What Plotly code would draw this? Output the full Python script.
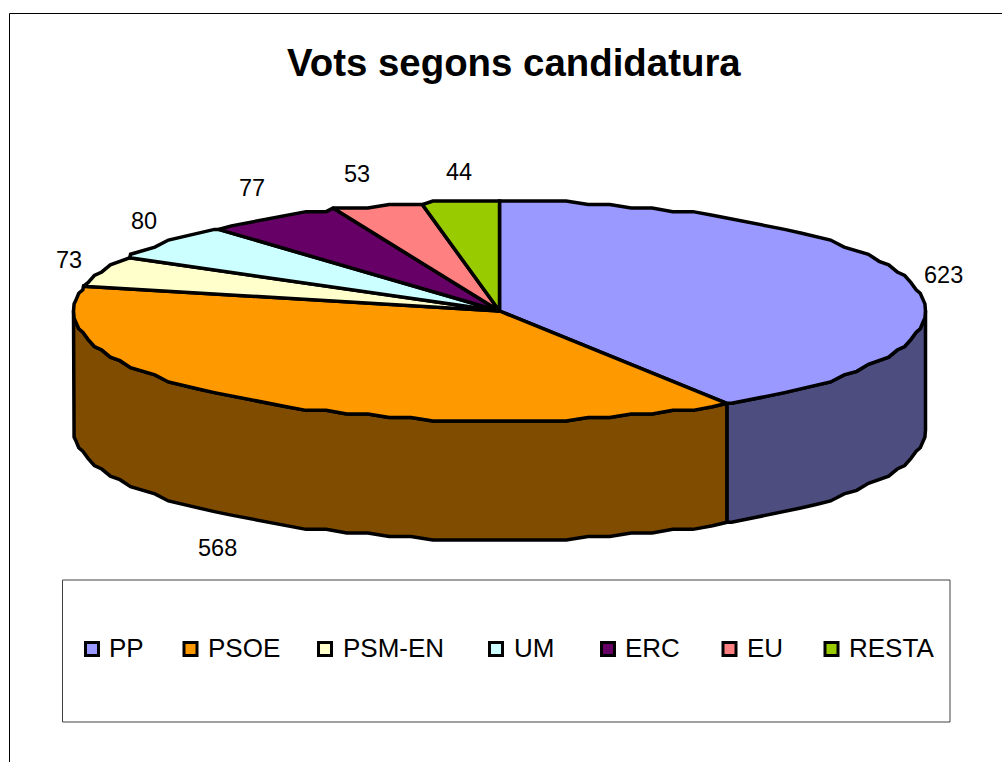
import numpy as np
import plotly.graph_objects as go

categories = ["PP", "PSOE", "PSM-EN", "UM", "ERC", "EU", "RESTA"]
votes = [623, 568, 73, 80, 77, 53, 44]
top_colors = ["#9999FF", "#FF9900", "#FFFFCC", "#CCFFFF", "#660066", "#FF8080", "#99CC00"]
side_colors = {"PP": "#4D4D80", "PSOE": "#804D00"}
title_text = "Vots segons candidatura"

# layout of the drawing, in page pixels
CX, CY, RX, RY, DEPTH = 499.5, 311, 426, 110, 119
GRID = 110 / 31
STEP = 3.0
label_pos = {"PP": (943, 275), "PSOE": (217, 548), "PSM-EN": (69, 260), "UM": (144, 221),
             "ERC": (252, 188), "EU": (357, 174), "RESTA": (459, 172)}
legend_swatch_x = [92, 190.5, 325, 496, 608, 729.5, 831.5]
legend_text_x = [108, 207, 342, 513, 624, 746, 848]
LEGEND_Y = 649


def rim(deg, dy=0.0):
    t = np.radians(deg)
    x = CX + RX * np.sin(t)
    y = CY + GRID * np.round(-RY * np.cos(t) / GRID)
    return x, y + dy


def arc(a, b):
    # shared angular grid, so that neighbouring faces have the same outline
    inner = np.arange(np.ceil(a / STEP) * STEP, b, STEP)
    return np.unique(np.r_[a, inner, b])


total = sum(votes)
edges = np.concatenate([[0], np.cumsum(votes)]) * 360.0 / total

fig = go.Figure()


def poly(xs, ys, fill, name):
    fig.add_trace(go.Scatter(x=list(xs), y=list(ys), mode="lines", fill="toself",
                             fillcolor=fill, name=name, showlegend=False, hoverinfo="name",
                             line=dict(color="#000000", width=3.5)))


# side walls of the front slices
for i, cat in enumerate(categories):
    if cat not in side_colors:
        continue
    a, b = edges[i], edges[i + 1]
    lo, hi = max(a, 90), min(b, 270)
    th = arc(lo, hi)
    x, y = rim(th)
    x2, y2 = rim(th[::-1], DEPTH)
    poly(np.r_[x, x2, x[0]], np.r_[y, y2, y[0]], side_colors[cat], cat)

# top faces
for i, cat in enumerate(categories):
    th = arc(edges[i], edges[i + 1])
    x, y = rim(th)
    poly(np.r_[CX, x, CX], np.r_[CY, y, CY], top_colors[i], cat)

# value labels
for cat, v in zip(categories, votes):
    lx, ly = label_pos[cat]
    fig.add_annotation(x=lx, y=ly, text=str(v), showarrow=False, xanchor="center", yanchor="middle",
                       font=dict(family="Liberation Sans", size=23.5, color="#000000"))

# legend
fig.add_trace(go.Scatter(x=legend_swatch_x, y=[LEGEND_Y] * len(categories), mode="markers",
                         showlegend=False, hoverinfo="skip",
                         marker=dict(symbol="square", size=13, color=top_colors,
                                     line=dict(color="#000000", width=3))))
for cat, lx in zip(categories, legend_text_x):
    fig.add_annotation(x=lx, y=LEGEND_Y - 1, text=cat, showarrow=False, xanchor="left", yanchor="middle",
                       xshift=-1, font=dict(family="Liberation Sans", size=26, color="#000000"))

fig.add_shape(type="rect", x0=62.5, x1=950, y0=580, y1=722, line=dict(color="#404040", width=1))
fig.add_shape(type="path", path="M 9.5 762 L 9.5 13.5 L 1002 13.5",
              line=dict(color="#000000", width=1))

fig.add_annotation(x=513.5, y=62, text="<b>" + title_text + "</b>", showarrow=False,
                   xanchor="center", yanchor="middle",
                   font=dict(family="Liberation Sans", size=38.4, color="#000000"))

fig.update_layout(width=1002, height=762, margin=dict(l=0, r=0, t=0, b=0),
                  paper_bgcolor="#FFFFFF", plot_bgcolor="#FFFFFF", showlegend=False,
                  xaxis=dict(range=[0, 1002], visible=False, fixedrange=True),
                  yaxis=dict(range=[762, 0], visible=False, fixedrange=True))
fig.write_html("out.html", config={"displayModeBar": False},
               post_script="document.body.style.margin='0';document.documentElement.style.overflow='hidden';")
